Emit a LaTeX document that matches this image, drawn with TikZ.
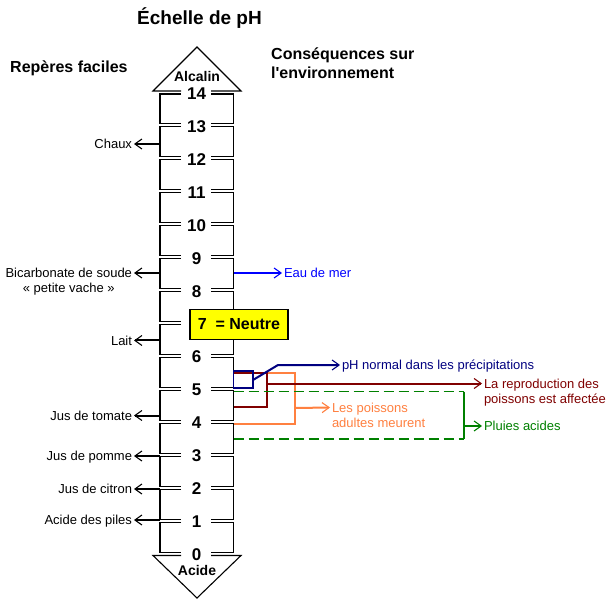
\documentclass[tikz,border=0pt]{standalone}
\usepackage{fontspec}
\setmainfont{Liberation Sans}
\newfontfamily\plainsans{Liberation Sans}
\usetikzlibrary{arrows.meta}
\definecolor{navyC}{RGB}{0,0,128}
\definecolor{redC}{RGB}{128,0,0}
\definecolor{orangeC}{RGB}{255,128,64}
\definecolor{greenC}{RGB}{0,128,0}
\definecolor{blueC}{RGB}{0,0,255}
\definecolor{yellowC}{RGB}{255,255,0}
\newcommand\lblfont{\fontsize{13}{15}\selectfont}
\newcommand\numfont{\fontsize{17}{20}\selectfont\bfseries}
\newcommand\headfont{\fontsize{16}{19}\selectfont\bfseries}
\newcommand\tipfont{\fontsize{14}{16}\selectfont\bfseries}
\begin{document}
\begin{tikzpicture}[x=1pt,y=-1pt,
  lbl/.style={font=\lblfont, inner sep=0pt, outer sep=2pt, text height=9.3pt, text depth=0pt},
  arr/.style={line width=2pt, -{Straight Barb[length=7pt,width=10pt,line width=1.1pt]}},
  col/.style={line width=1.1pt, black},
  num/.style={font=\numfont, inner sep=0pt},
  thin/.style={line width=1.1pt}]
\useasboundingbox (0,0) rectangle (610,601);
\fill[white] (0,0) rectangle (610,601);

% titles
\node[font=\fontsize{19}{23}\selectfont\bfseries, anchor=base, inner sep=0pt] (title) at (199.5,25) {Échelle de pH};
\node[font=\headfont, anchor=base west, inner sep=0pt] (rep) at (10,73) {Repères faciles};
\node[font=\headfont\plainsans, anchor=base west, inner sep=0pt] (cons1) at (271,60) {Conséquences sur};
\node[font=\headfont\plainsans, anchor=base west, inner sep=0pt] (cons2) at (271,79) {l'environnement};

% column bricks
\foreach \k in {0,...,13} {
  \pgfmathsetmacro\ytop{92.5+(13-\k)*32.95+1.5}
  \pgfmathsetmacro\ybot{92.5+(14-\k)*32.95-1.5}
  \draw[col] (181,\ytop) -- (160,\ytop) -- (160,\ybot) -- (181,\ybot);
  \draw[col] (211,\ytop) -- (233.5,\ytop) -- (233.5,\ybot) -- (211,\ybot);
}
% triangles
\draw[col] (181,91) -- (153,91) -- (197,47) -- (241,91) -- (211,91);
\draw[col] (181,555.5) -- (153,555.5) -- (197,598) -- (241,555.5) -- (211,555.5);
\node[font=\tipfont, anchor=base, inner sep=0pt] (alc) at (197,82) {Alcalin};
\node[font=\tipfont, anchor=base, inner sep=0pt] (acide) at (197,575.5) {Acide};

% numbers
\foreach \k in {0,1,2,3,4,5,6,8,9,10,11,12,13,14} {
  \node[num] (n\k) at (196.5,{92.5+(14-\k)*32.95+1}) {\k};
}
% neutral box
\node[draw=black, fill=yellowC, line width=1.1pt, minimum width=98pt, minimum height=30pt, inner sep=0pt, font=\fontsize{16}{19}\selectfont\bfseries] (neutre) at (239,324.5) {7\ \ = Neutre};

% left labels
\coordinate (a-chaux) at (160,144);
\coordinate (a-bic) at (160,273);
\coordinate (a-lait) at (160,340.5);
\coordinate (a-tom) at (160,415.5);
\coordinate (a-pom) at (160,456);
\coordinate (a-cit) at (160,489);
\coordinate (a-pil) at (160,520);
\node[lbl, anchor=east] (chaux) at (134,144) {Chaux};
\node[lbl, anchor=east] (bic) at (134,273) {Bicarbonate de soude};
\node[lbl, anchor=base] (pv) at ([yshift=-15pt]bic.base) {« petite vache »};
\node[lbl, anchor=east] (lait) at (134,340.5) {Lait};
\node[lbl, anchor=east] (tom) at (134,415.5) {Jus de tomate};
\node[lbl, anchor=east] (pom) at (134,456) {Jus de pomme};
\node[lbl, anchor=east] (cit) at (134,489) {Jus de citron};
\node[lbl, anchor=east] (pil) at (134,520) {Acide des piles};
\foreach \a/\b in {a-chaux/chaux, a-bic/bic, a-lait/lait, a-tom/tom, a-pom/pom, a-cit/cit, a-pil/pil}
  \draw[arr] (\a) -- (\b.east);

% right side
\coordinate (r-eau) at (233.5,273);
\node[lbl, anchor=west, text=blueC] (eau) at (282,273) {Eau de mer};
\draw[arr, blueC] (r-eau) -- (eau.west);

% orange bracket
\draw[thin, orangeC] (233.5,373) -- (295,373) -- (295,424) -- (233.5,424);
\coordinate (r-or) at (295,408);
\node[lbl, anchor=west, text=orangeC] (adu1) at (330,407.5) {Les poissons};
\node[lbl, anchor=base west, text=orangeC] (adu2) at ([yshift=-15pt]adu1.base west) {adultes meurent};
\draw[arr, orangeC] (r-or) -- (adu1.west);

% dark red bracket
\draw[thin, redC] (233.5,373) -- (267,373) -- (267,407) -- (233.5,407);
\coordinate (r-red) at (267,383.5);
\node[lbl, anchor=west, text=redC] (rep1) at (482,383.5) {La reproduction des};
\node[lbl, anchor=base west, text=redC] (rep2) at ([yshift=-15pt]rep1.base west) {poissons est affectée};
\draw[arr, redC] (r-red) -- (rep1.west);

% navy box
\draw[thin, navyC] (233.5,371) rectangle (253,388);
\coordinate (r-nav) at (253,380);
\coordinate (r-nav2) at (278,365);
\node[lbl, anchor=west, text=navyC] (phn) at (340,365) {pH normal dans les précipitations};
\draw[arr, navyC, line join=round] (r-nav) -- (r-nav2) -- (phn.west);

% green dashed
\draw[thin, greenC, dash pattern=on 10pt off 5pt] (233.5,391.5) -- (464,391.5);
\draw[thin, greenC, dash pattern=on 10pt off 5pt] (233.5,439) -- (464,439);
\draw[thin, greenC] (464,391.5) -- (464,439);
\coordinate (r-gr) at (464,426);
\node[lbl, anchor=west, text=greenC] (plu) at (482,426) {Pluies acides};
\draw[arr, greenC] (r-gr) -- (plu.west);
\end{tikzpicture}
\end{document}
